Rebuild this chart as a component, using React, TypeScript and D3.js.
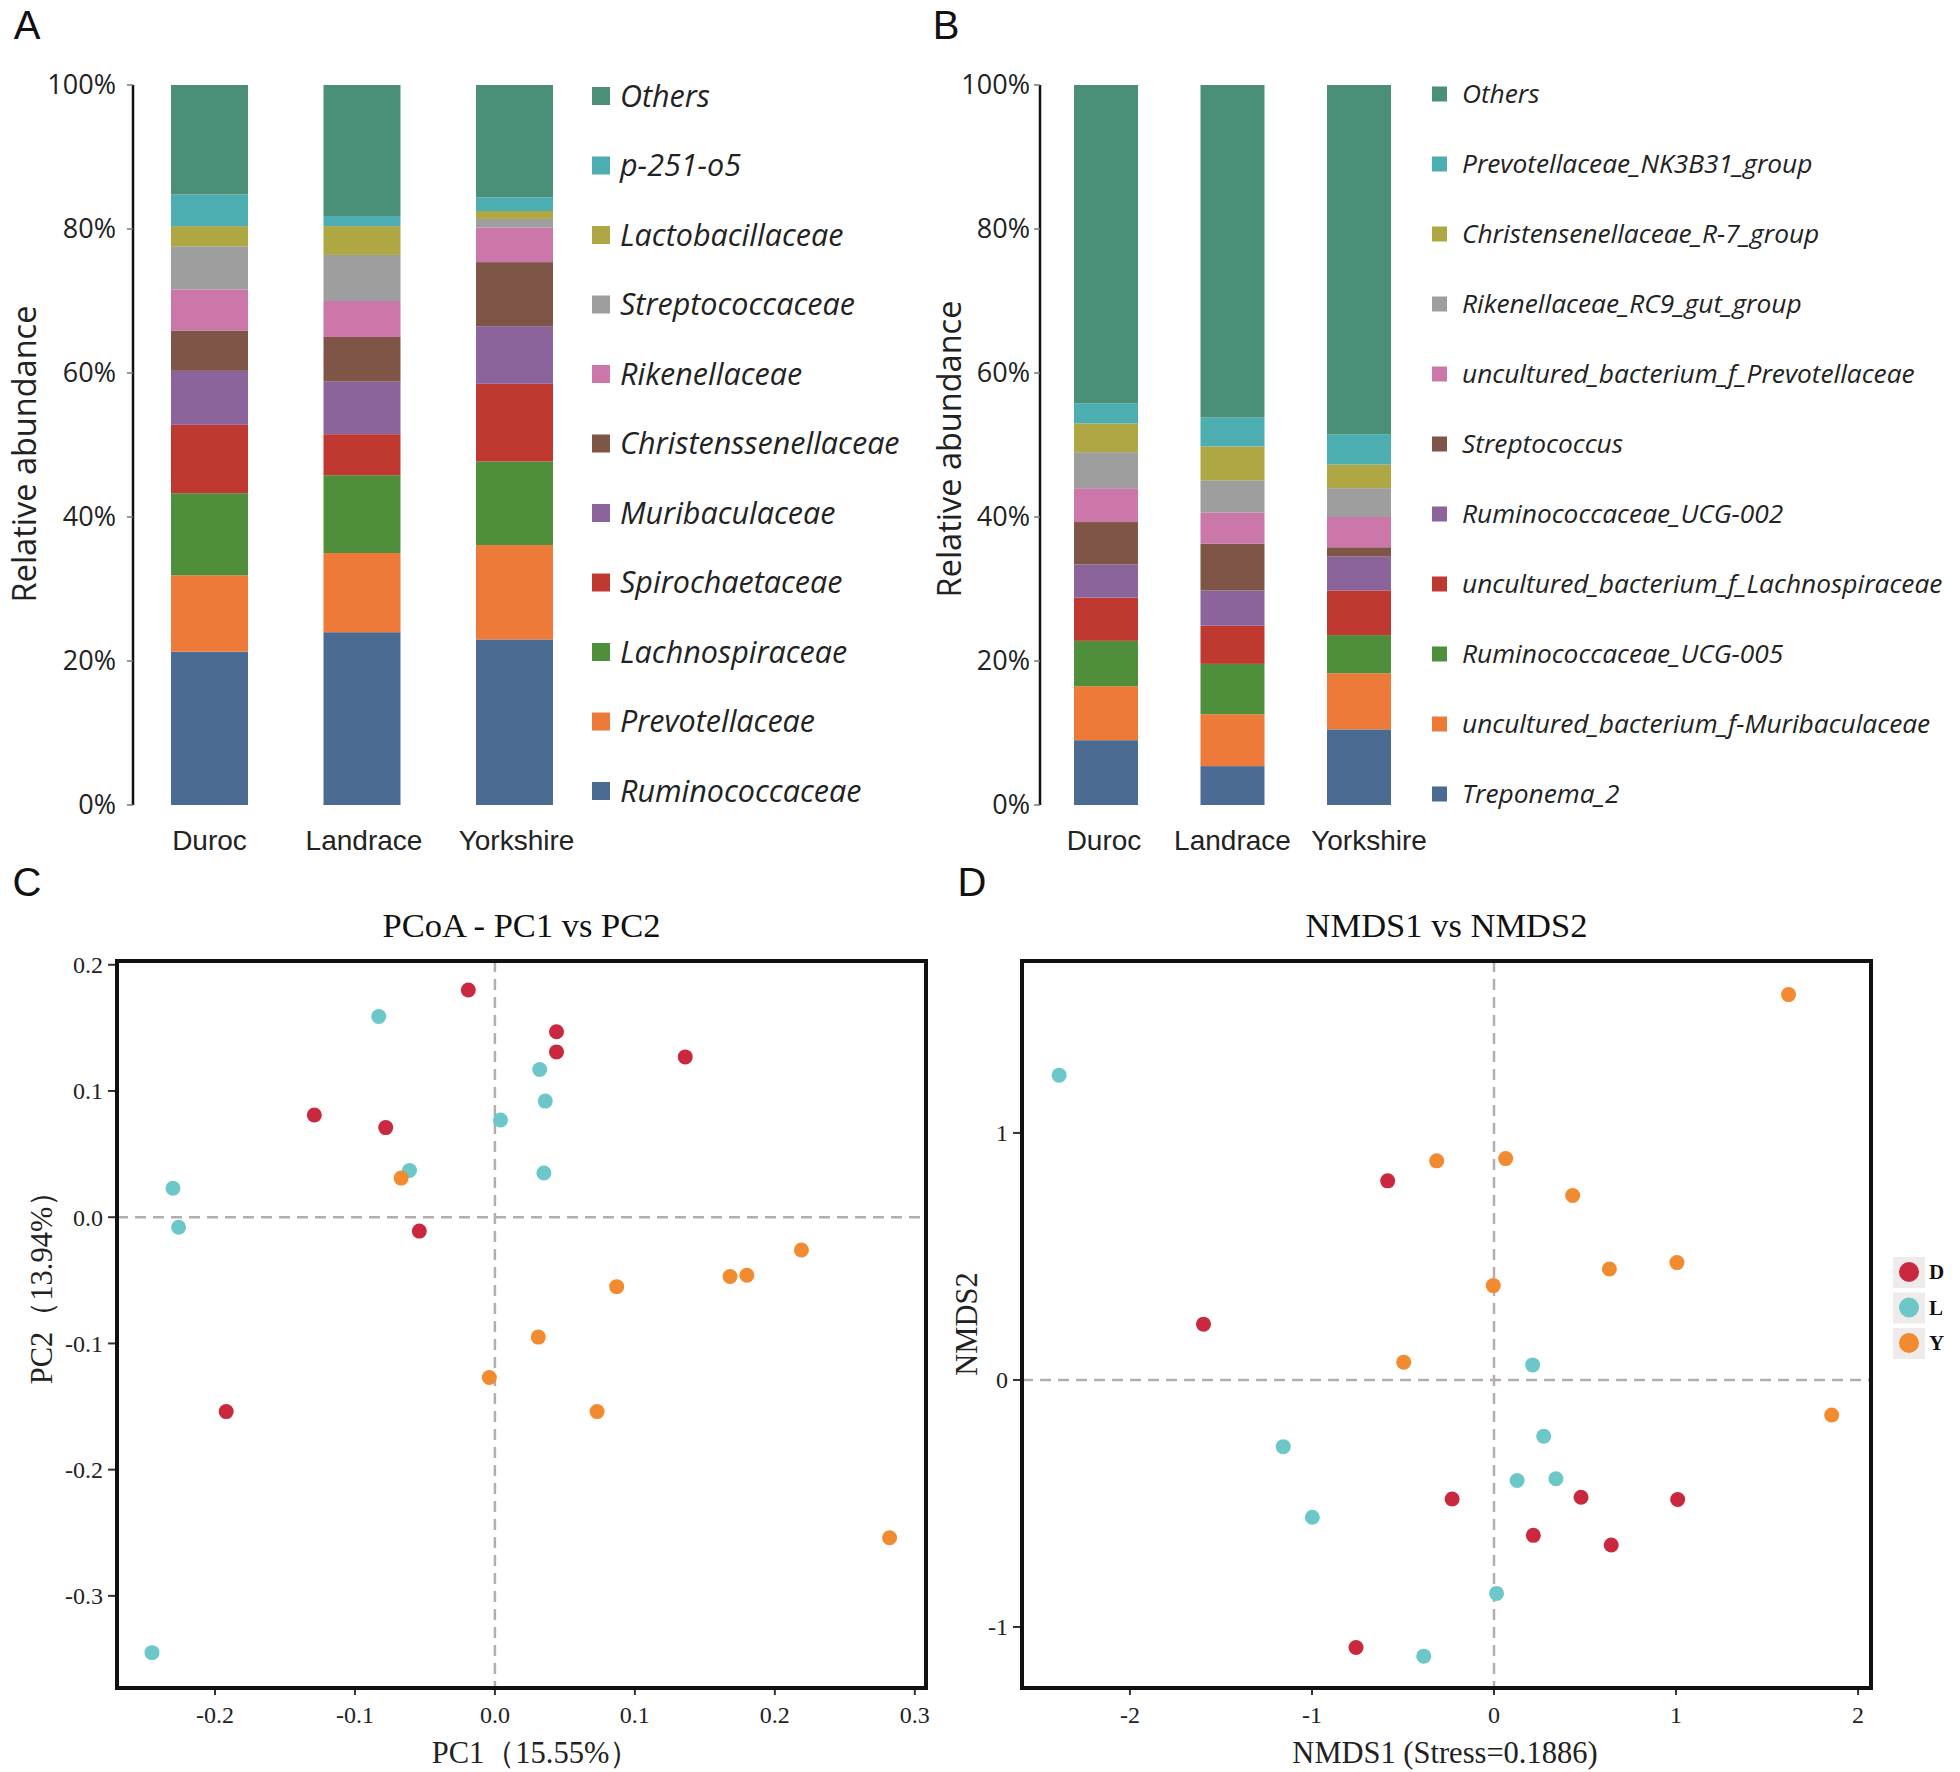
import React from 'react';
import * as d3 from 'd3';

// ---------- DATA ----------
const breeds = ['Duroc', 'Landrace', 'Yorkshire'];
const pctTicks = [0, 20, 40, 60, 80, 100];

// Panel A (family level), stacking order bottom -> top
const familyTaxa = ['Ruminococcaceae', 'Prevotellaceae', 'Lachnospiraceae', 'Spirochaetaceae', 'Muribaculaceae', 'Christenssenellaceae', 'Rikenellaceae', 'Streptococcaceae', 'Lactobacillaceae', 'p-251-o5', 'Others'];
const familyDuroc = [21.3, 10.6, 11.4, 9.5, 7.5, 5.6, 5.7, 6.0, 2.8, 4.4, 15.2];
const familyLandrace = [24.0, 11.0, 10.8, 5.7, 7.3, 6.2, 5.0, 6.4, 4.0, 1.4, 18.2];
const familyYorkshire = [23.0, 13.1, 11.6, 10.8, 8.0, 8.9, 4.8, 1.2, 1.1, 1.9, 15.6];

// Panel B (genus level), stacking order bottom -> top
const genusTaxa = ['Treponema_2', 'uncultured_bacterium_f-Muribaculaceae', 'Ruminococcaceae_UCG-005', 'uncultured_bacterium_f_Lachnospiraceae', 'Ruminococcaceae_UCG-002', 'Streptococcus', 'uncultured_bacterium_f_Prevotellaceae', 'Rikenellaceae_RC9_gut_group', 'Christensenellaceae_R-7_group', 'Prevotellaceae_NK3B31_group', 'Others'];
const genusDuroc = [9.0, 7.5, 6.3, 6.0, 4.6, 5.9, 4.7, 5.0, 4.0, 2.8, 44.2];
const genusLandrace = [5.4, 7.2, 7.0, 5.3, 4.9, 6.5, 4.3, 4.5, 4.7, 4.0, 46.2];
const genusYorkshire = [10.5, 7.8, 5.3, 6.2, 4.7, 1.3, 4.2, 4.0, 3.3, 4.2, 48.5];

const stackColors = ['#4B6B92', '#EE7A3A', '#4F8F3B', '#C03931', '#8B649B', '#7F5548', '#CB77A9', '#9E9E9E', '#AEA744', '#4DAEB2', '#4A8F78'];

// Panel C (PCoA)
const groupNames = ['D', 'L', 'Y'];
const groupColors = ['#C9283E', '#6CC7C9', '#F28A30'];
const pcoaD = [[-0.019, 0.180], [0.044, 0.147], [0.044, 0.131], [0.136, 0.127], [-0.129, 0.081], [-0.078, 0.071], [-0.054, -0.011], [-0.192, -0.154]];
const pcoaL = [[-0.083, 0.159], [0.032, 0.117], [0.036, 0.092], [0.004, 0.077], [-0.061, 0.037], [0.035, 0.035], [-0.230, 0.023], [-0.226, -0.008], [-0.245, -0.345]];
const pcoaY = [[-0.067, 0.031], [0.219, -0.026], [0.168, -0.047], [0.180, -0.046], [0.087, -0.055], [0.031, -0.095], [-0.004, -0.127], [0.073, -0.154], [0.282, -0.254]];
const pcoaXTicks = [-0.2, -0.1, 0.0, 0.1, 0.2, 0.3];
const pcoaYTicks = [0.2, 0.1, 0.0, -0.1, -0.2, -0.3];

// Panel D (NMDS)
const nmdsD = [[-0.584, 0.806], [-1.596, 0.226], [-0.230, -0.482], [0.478, -0.475], [1.009, -0.484], [0.216, -0.629], [0.644, -0.668], [-0.758, -1.083]];
const nmdsL = [[-2.389, 1.234], [0.212, 0.061], [0.273, -0.228], [-1.158, -0.270], [0.127, -0.407], [0.340, -0.400], [-0.998, -0.556], [0.014, -0.864], [-0.386, -1.118]];
const nmdsY = [[1.618, 1.560], [-0.315, 0.887], [0.064, 0.896], [0.432, 0.747], [0.634, 0.449], [1.005, 0.475], [-0.004, 0.382], [-0.496, 0.072], [1.855, -0.142]];
const nmdsXTicks = [-2, -1, 0, 1, 2];
const nmdsYTicks = [1, 0, -1];

// ---------- COMPONENTS ----------
const SANS = "'Open Sans', 'Noto Sans', sans-serif";
const ARIAL = "'Liberation Sans', Arial, sans-serif";
const SERIF = "'Liberation Serif', 'Times New Roman', serif";

type StackProps = {
  taxa: string[];
  series: number[][];
  axisX: number;
  yTop: number;
  yBottom: number;
  firstCenter: number;
  lastCenter: number;
  barWidth: number;
  labelShift: number[];
  legendX: number;
  legendTop: number;
  legendBottom: number;
  legendFont: number;
  legendGap: number;
  square: number;
  tickGap: number;
  ylabelX: number;
  ylabelY: number;
};

function StackPanel(p: StackProps) {
  const y = d3.scaleLinear().domain([0, 100]).range([p.yBottom, p.yTop]);
  const x = d3.scalePoint<string>().domain(breeds).range([p.firstCenter, p.lastCenter]);
  const rows = breeds.map((b, i) => {
    const o: any = { breed: b };
    p.taxa.forEach((t, j) => (o[t] = p.series[i][j]));
    return o;
  });
  const stacked = d3.stack<any>().keys(p.taxa)(rows);
  const legendOrder = [...p.taxa].reverse();
  const ly = d3.scalePoint<string>().domain(legendOrder).range([p.legendTop, p.legendBottom]);
  return (
    <g>
      {stacked.map((layer, li) => (
        <g key={p.taxa[li]} fill={stackColors[li]}>
          {layer.map((d, bi) => (
            <rect key={bi} x={(x(breeds[bi]) as number) - p.barWidth / 2} width={p.barWidth}
              y={y(Math.min(100, d[1]))} height={y(d[0]) - y(Math.min(100, d[1]))} />
          ))}
        </g>
      ))}
      <line x1={p.axisX} x2={p.axisX} y1={p.yTop} y2={p.yBottom} stroke="#111" strokeWidth={2.5} />
      {pctTicks.map((t) => (
        <g key={t}>
          <line x1={p.axisX - 6} x2={p.axisX} y1={y(t)} y2={y(t)} stroke="#777" strokeWidth={1.5} />
          <text x={p.axisX - p.tickGap} y={y(t)} dy="0.35em" textAnchor="end" fontFamily={SANS} fontSize={27} fill="#222">{t + '%'}</text>
        </g>
      ))}
      {breeds.map((b, i) => (
        <text key={b} x={(x(b) as number) + p.labelShift[i]} y={850} textAnchor="middle" fontFamily={ARIAL} fontSize={28} fill="#222">{b}</text>
      ))}
      <text transform={`translate(${p.ylabelX},${p.ylabelY}) rotate(-90)`} textAnchor="middle" dy="0.35em" fontFamily={SANS} fontSize={32.5} fill="#222">Relative abundance</text>
      {legendOrder.map((t) => {
        const idx = p.taxa.indexOf(t);
        const cy = ly(t) as number;
        return (
          <g key={t}>
            <rect x={p.legendX} y={cy - p.square / 2} width={p.square} height={p.square} fill={stackColors[idx]} />
            <text x={p.legendX + p.square + p.legendGap} y={cy} dy="0.35em" fontFamily={SANS} fontStyle="italic" fontSize={p.legendFont} fill="#222">{t}</text>
          </g>
        );
      })}
    </g>
  );
}

type ScatterProps = {
  groups: number[][][];
  xDomain: [number, number];
  yDomain: [number, number];
  left: number; right: number; top: number; bottom: number;
  xTicks: number[]; yTicks: number[];
  fmt: (v: number) => string;
  title: string; xlabel: string; ylabel: string;
  xlabelX: number;
  ylabelX: number;
  ylabelY: number;
};

function ScatterPanel(p: ScatterProps) {
  const x = d3.scaleLinear().domain(p.xDomain).range([p.left, p.right]);
  const y = d3.scaleLinear().domain(p.yDomain).range([p.bottom, p.top]);
  const cx = (p.left + p.right) / 2;
  return (
    <g>
      <text x={cx} y={937} textAnchor="middle" fontFamily={SERIF} fontSize={34.5} fill="#111">{p.title}</text>
      <line x1={p.left} x2={p.right} y1={y(0)} y2={y(0)} stroke="#B5ADAD" strokeWidth={2.5} strokeDasharray="11,7" />
      <line x1={x(0)} x2={x(0)} y1={p.top} y2={p.bottom} stroke="#B5ADAD" strokeWidth={2.5} strokeDasharray="11,7" />
      {p.groups.map((g, gi) => (
        <g key={gi} fill={groupColors[gi]}>
          {g.map((d, i) => (
            <circle key={i} cx={x(d[0])} cy={y(d[1])} r={7.5} />
          ))}
        </g>
      ))}
      <rect x={p.left} y={p.top} width={p.right - p.left} height={p.bottom - p.top} fill="none" stroke="#111" strokeWidth={4} />
      {p.xTicks.map((t) => (
        <g key={t}>
          <line x1={x(t)} x2={x(t)} y1={p.bottom + 2} y2={p.bottom + 7} stroke="#333" strokeWidth={2} />
          <text x={x(t)} y={p.bottom + 27} dy="0.35em" textAnchor="middle" fontFamily={SERIF} fontSize={24} fill="#222">{p.fmt(t)}</text>
        </g>
      ))}
      {p.yTicks.map((t) => (
        <g key={t}>
          <line x1={p.left - 9} x2={p.left - 2} y1={y(t)} y2={y(t)} stroke="#333" strokeWidth={2} />
          <text x={p.left - 14} y={y(t)} dy="0.35em" textAnchor="end" fontFamily={SERIF} fontSize={24} fill="#222">{p.fmt(t)}</text>
        </g>
      ))}
      <text x={p.xlabelX} y={1763} textAnchor="middle" fontFamily={SERIF} fontSize={30.5} fill="#222">{p.xlabel}</text>
      <text transform={`translate(${p.ylabelX},${p.ylabelY}) rotate(-90)`} textAnchor="middle" dy="0.35em" fontFamily={SERIF} fontSize={30.5} fill="#222">{p.ylabel}</text>
    </g>
  );
}

export default function App() {
  const fmt1 = (v: number) => d3.format('.1f')(v).replace('−', '-');
  const fmt0 = (v: number) => d3.format('d')(v).replace('−', '-');
  const legY = d3.scalePoint<string>().domain(groupNames).range([1272, 1343]);
  return (
    <div style={{ position: 'absolute', left: 0, top: 0 }}>
      <svg width={1960} height={1772} style={{ display: 'block', background: '#fff' }}>
        <rect width={1960} height={1772} fill="#ffffff" />
        <text x={27} y={25} dy="0.35em" textAnchor="middle" fontFamily={ARIAL} fontSize={40} fill="#111">A</text>
        <text x={946} y={25} dy="0.35em" textAnchor="middle" fontFamily={ARIAL} fontSize={40} fill="#111">B</text>
        <text x={27} y={882} dy="0.35em" textAnchor="middle" fontFamily={ARIAL} fontSize={40} fill="#111">C</text>
        <text x={972} y={882} dy="0.35em" textAnchor="middle" fontFamily={ARIAL} fontSize={40} fill="#111">D</text>

        <StackPanel taxa={familyTaxa} series={[familyDuroc, familyLandrace, familyYorkshire]}
          axisX={133} yTop={85} yBottom={805} firstCenter={209.5} lastCenter={514.5} barWidth={77}
          labelShift={[0, 2, 2]}
          legendX={592} legendTop={96} legendBottom={791} legendFont={30.5} legendGap={10} square={18}
          tickGap={17} ylabelX={25} ylabelY={454} />

        <StackPanel taxa={genusTaxa} series={[genusDuroc, genusLandrace, genusYorkshire]}
          axisX={1040} yTop={85} yBottom={805} firstCenter={1106} lastCenter={1359} barWidth={64}
          labelShift={[-2, 0, 10]}
          legendX={1432} legendTop={94} legendBottom={794} legendFont={26.3} legendGap={15} square={15}
          tickGap={10} ylabelX={950} ylabelY={449} />

        <ScatterPanel groups={[pcoaD, pcoaL, pcoaY]} xDomain={[-0.27, 0.308]} yDomain={[-0.373, 0.203]}
          left={117} right={926} top={961} bottom={1688} xTicks={pcoaXTicks} yTicks={pcoaYTicks} fmt={fmt1}
          title="PCoA - PC1 vs PC2" xlabel="PC1（15.55%）" ylabel="PC2（13.94%）"
          xlabelX={536} ylabelX={41} ylabelY={1280} />

        <ScatterPanel groups={[nmdsD, nmdsL, nmdsY]} xDomain={[-2.593, 2.071]} yDomain={[-1.247, 1.696]}
          left={1022} right={1871} top={961} bottom={1688} xTicks={nmdsXTicks} yTicks={nmdsYTicks} fmt={fmt0}
          title="NMDS1 vs NMDS2" xlabel="NMDS1 (Stress=0.1886)" ylabel="NMDS2"
          xlabelX={1445} ylabelX={966} ylabelY={1324} />

        {groupNames.map((g, i) => {
          const cy = legY(g) as number;
          return (
            <g key={g}>
              <rect x={1893} y={cy - 15} width={32} height={31} fill="#EFEBEB" />
              <circle cx={1909} cy={cy} r={10} fill={groupColors[i]} />
              <text x={1929} y={cy} dy="0.35em" fontFamily={SERIF} fontWeight="bold" fontSize={21} fill="#111">{g}</text>
            </g>
          );
        })}
      </svg>
    </div>
  );
}
